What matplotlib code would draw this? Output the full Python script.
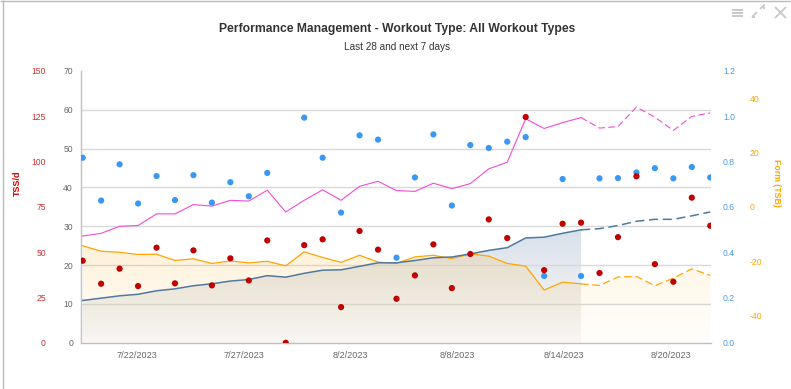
import matplotlib
matplotlib.use('Agg')
import matplotlib.pyplot as plt
from matplotlib.lines import Line2D
import numpy as np

plt.rcParams['font.family'] = ['Liberation Sans', 'DejaVu Sans']
plt.rcParams['axes.unicode_minus'] = False

# ---------------- data ----------------
x_labels = ['7/22/2023', '7/27/2023', '8/2/2023', '8/8/2023', '8/14/2023', '8/20/2023']
n_past = 28  # last 28 days are actual, next 7 planned

atl = [27.5, 28.2, 30.0, 30.2, 33.2, 33.2, 35.6, 35.2, 36.7, 36.5, 39.3, 33.7, 36.7, 39.4,
       36.7, 40.3, 41.6, 39.2, 39.0, 41.1, 39.7, 41.0, 44.8, 46.5, 57.7, 55.2, 56.7, 58.0,
       55.3, 55.7, 60.7, 58.1, 54.7, 58.3, 59.2]
ctl = [10.9, 11.5, 12.1, 12.5, 13.4, 13.9, 14.7, 15.2, 15.9, 16.3, 17.3, 16.9, 17.9, 18.7,
       18.8, 19.7, 20.6, 20.6, 21.2, 21.9, 22.1, 22.9, 23.8, 24.5, 27.0, 27.2, 28.2, 29.1,
       29.4, 30.2, 31.3, 31.8, 31.8, 32.7, 33.7]
tsb = [-14.3, -16.3, -16.7, -17.5, -17.4, -19.7, -19.1, -20.8, -19.9, -20.6, -20.0, -21.7,
       -16.5, -18.6, -20.4, -17.8, -20.3, -20.8, -18.4, -17.8, -19.0, -17.3, -18.1, -20.8,
       -21.8, -30.6, -27.7, -28.3, -28.9, -25.8, -25.6, -29.0, -26.2, -22.8, -25.2]
tss = [45.3, 32.6, 40.9, 31.3, 52.5, 32.8, 51.0, 31.7, 46.6, 34.4, 56.5, 0.0, 53.9, 57.1,
       19.7, 61.7, 51.4, 24.3, 37.2, 54.3, 30.2, 49.0, 68.1, 57.8, 124.6, 40.1, 65.7, 66.3,
       38.5, 58.3, 91.9, 43.4, 33.7, 80.1, 64.6]
intensity = [0.817, 0.628, 0.788, 0.615, 0.736, 0.630, 0.740, 0.619, 0.709, 0.647, 0.750,
             np.nan, 0.994, 0.817, 0.575, 0.916, 0.897, 0.376, 0.730, 0.920, 0.606, 0.873,
             0.860, 0.888, 0.908, 0.295, 0.723, 0.295, 0.726, 0.727, 0.752, 0.771, 0.726,
             0.776, 0.730]

# ---------------- layout ----------------
W, H = 791, 389
fig = plt.figure(figsize=(W / 100, H / 100), dpi=100)
L, R, T, B = 80.7, 711.0, 71.0, 342.8
rect = [L / W, 1 - B / H, (R - L) / W, (B - T) / H]
ax = fig.add_axes(rect)

x = np.arange(len(ctl))
xp = x[:n_past]
xf = x[n_past - 1:]
ctl_a, atl_a, tsb_a = np.array(ctl), np.array(atl), np.array(tsb)
XLIM = (-0.108, 34.04)

C_GRID = '#d9d9d9'
C_AXIS = '#c0c0c0'
C_TICK = '#666666'
C_ATL = '#f24cd4'
C_CTL = '#4f7aa0'
C_TSB = '#ffa500'
C_TSS = '#c00000'
C_IF = '#3a97f2'
C_TSS_LBL = '#cc3333'
C_IF_LBL = '#4a9be8'


def gradient_fill(a, xs, ys, y0, top, bot, ytop=None):
    poly = a.fill_between(xs, ys, y0, facecolor='none', edgecolor='none')
    ymax = max(ys) if ytop is None else ytop
    g = np.linspace(0, 1, 256)[:, None]
    img = np.zeros((256, 1, 4))
    for c in range(4):
        img[:, :, c] = top[c] * (1 - g) + bot[c] * g
    im = a.imshow(img, extent=[xs[0], xs[-1], y0, ymax], aspect='auto',
                  origin='upper', interpolation='bilinear')
    im.set_clip_path(poly.get_paths()[0], transform=a.transData)


# main axis (0-70): grid, blue CTL area
ax.set_xlim(*XLIM)
ax.set_ylim(0, 70)
ax.set_yticks(np.arange(0, 71, 10))
ax.grid(axis='y', color=C_GRID, lw=1.0)
ax.set_axisbelow(True)
for gl in (ax.get_ygridlines()[0], ax.get_ygridlines()[-1]):
    gl.set_visible(False)
for s in ('top', 'right'):
    ax.spines[s].set_visible(False)
for s in ('left', 'bottom'):
    ax.spines[s].set_color(C_AXIS)
    ax.spines[s].set_linewidth(1.0)
ax.tick_params(axis='y', length=0, pad=5.5, labelsize=6.2, labelcolor=C_TICK)
ax.tick_params(axis='x', length=0, pad=6, labelsize=6.6, labelcolor=C_TICK)
tick_pos = np.linspace(2.93, 31.86, len(x_labels))
ax.set_xticks(tick_pos)
ax.set_xticklabels(x_labels)
gradient_fill(ax, xp, ctl_a[:n_past], 0, (0.30, 0.46, 0.63, 0.22), (0.55, 0.55, 0.55, 0.06))
ax.set_xlim(*XLIM)
ax.set_ylim(0, 70)

# TSB axis (-50..50): orange area + line
ax_tsb = ax.twinx()
ax_tsb.set_ylim(-50, 50)
ax_tsb.set_yticks([-40, -20, 0, 20, 40])
ax_tsb.tick_params(axis='y', length=0, pad=28, labelsize=6.2, labelcolor=C_TSB)
for s in ax_tsb.spines.values():
    s.set_visible(False)
gradient_fill(ax_tsb, xp, tsb_a[:n_past], -50, (1.0, 0.65, 0.0, 0.15), (1.0, 0.65, 0.0, 0.02))
gradient_fill(ax_tsb, xf, tsb_a[n_past - 1:], -50, (1.0, 0.65, 0.0, 0.11), (1.0, 0.65, 0.0, 0.02),
              ytop=max(tsb_a[:n_past]))
ax_tsb.plot(xp, tsb_a[:n_past], color=C_TSB, lw=0.9)
ax_tsb.plot(xf, tsb_a[n_past - 1:], color=C_TSB, lw=0.9, ls=(0, (6, 3)))
ax_tsb.set_xlim(*XLIM)
ax_tsb.set_ylim(-50, 50)

# lines on main scale (CTL, ATL)
ax_l = ax.twinx()
ax_l.set_ylim(0, 70)
ax_l.set_yticks([])
for s in ax_l.spines.values():
    s.set_visible(False)
ax_l.plot(xp, ctl_a[:n_past], color=C_CTL, lw=1.1)
ax_l.plot(xf, ctl_a[n_past - 1:], color=C_CTL, lw=1.1, ls=(0, (6, 3)))
ax_l.plot(xp, atl_a[:n_past], color=C_ATL, lw=0.8)
ax_l.plot(xf, atl_a[n_past - 1:], color=C_ATL, lw=0.8, ls=(0, (6, 3)))
ax_l.set_xlim(*XLIM)

# IF axis (0..1.2)
ax_if = ax.twinx()
ax_if.set_ylim(0, 1.2)
ax_if.set_yticks(np.arange(0, 1.21, 0.2))
ax_if.set_yticklabels(['%.1f' % v for v in np.arange(0, 1.21, 0.2)])
ax_if.tick_params(axis='y', length=0, pad=8.6, labelsize=6.2, labelcolor=C_IF_LBL)
for s in ax_if.spines.values():
    s.set_visible(False)
ax_if.scatter(x, intensity, s=20, color=C_IF, edgecolors='none', zorder=3)
ax_if.set_xlim(*XLIM)

# TSS axis (0..150) on the left
ax_tss = ax.twinx()
ax_tss.yaxis.tick_left()
ax_tss.set_ylim(0, 150)
ax_tss.set_yticks(np.arange(0, 151, 25))
ax_tss.tick_params(axis='y', length=0, pad=25, labelsize=6.2, labelcolor=C_TSS_LBL)
for s in ax_tss.spines.values():
    s.set_visible(False)
ax_tss.scatter(x, tss, s=20, color=C_TSS, edgecolors='none', zorder=3)
ax_tss.set_xlim(*XLIM)

# titles
fig.text(397 / W, 1 - 29 / H, 'Performance Management - Workout Type: All Workout Types',
         ha='center', va='center', fontsize=8.7, fontweight='bold', color='#333333')
fig.text(397 / W, 1 - 47.5 / H, 'Last 28 and next 7 days', ha='center', va='center',
         fontsize=7.2, color='#333333')
fig.text(17 / W, 1 - 183 / H, 'TSS/d', rotation=90, ha='center', va='center',
         fontsize=6.5, fontweight='bold', color='#cc0000')
fig.text(777 / W, 1 - 183 / H, 'Form (TSB)', rotation=270, ha='center', va='center',
         fontsize=6.3, fontweight='bold', color=C_TSB)


# frame and icons (pixel coordinates)
def pline(xs, ys, color, lw):
    fig.add_artist(Line2D([v / W for v in xs], [1 - v / H for v in ys], color=color, lw=lw,
                          solid_capstyle='butt'))


pline([0, W], [0.5, 0.5], '#bbbbbb', 1.0)
pline([2.7, 2.7], [0, H], '#bbbbbb', 1.0)
IC = '#c8c8c8'
for yy in (9.5, 12.5, 15.5):
    pline([732, 743], [yy, yy], IC, 1.4)
pline([752, 757], [17, 12], IC, 1.2)
pline([760, 765], [9, 4.5], IC, 1.2)
pline([752, 754.5], [17, 17], IC, 1.6)
pline([765, 762.5], [8, 8], IC, 1.6)
pline([775, 786], [7, 18], IC, 1.3)
pline([775, 786], [18, 7], IC, 1.3)

fig.savefig('out.png', dpi=100)
